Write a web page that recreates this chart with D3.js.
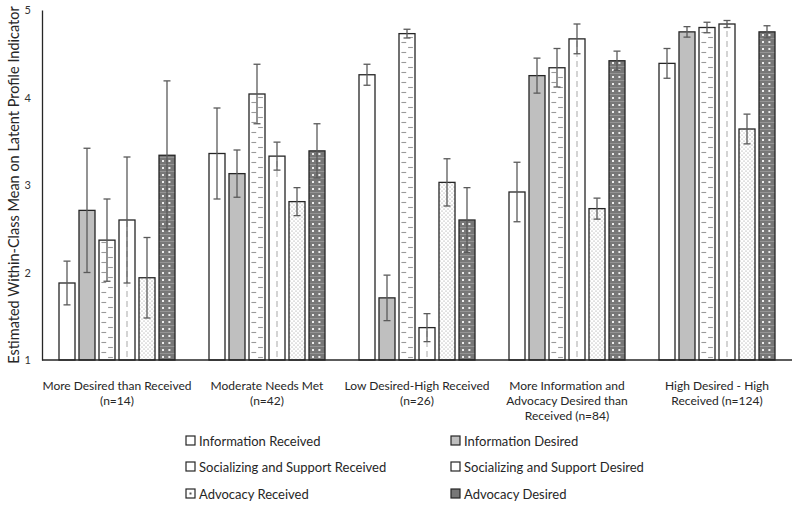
<!DOCTYPE html>
<html><head><meta charset="utf-8">
<script src="https://cdn.jsdelivr.net/npm/d3@7"></script>
<style>body{margin:0;background:#fff;} svg{display:block;}</style>
</head><body>
<svg id="c" width="800" height="510"></svg>
<script>
const categories = [
  ["More Desired than Received", "(n=14)"],
  ["Moderate Needs Met", "(n=42)"],
  ["Low Desired-High Received", "(n=26)"],
  ["More Information and", "Advocacy Desired than", "Received (n=84)"],
  ["High Desired - High", "Received (n=124)"]
];
const seriesNames = ["Information Received","Information Desired","Socializing and Support Received","Socializing and Support Desired","Advocacy Received","Advocacy Desired"];
const infoReceived = [1.88, 3.36, 4.26, 2.92, 4.39];
const infoReceivedErr = [0.25, 0.52, 0.12, 0.34, 0.17];
const infoDesired = [2.71, 3.13, 1.71, 4.25, 4.75];
const infoDesiredErr = [0.71, 0.27, 0.26, 0.20, 0.06];
const socReceived = [2.37, 4.04, 4.73, 4.34, 4.80];
const socReceivedErr = [0.47, 0.34, 0.05, 0.22, 0.06];
const socDesired = [2.60, 3.33, 1.37, 4.67, 4.84];
const socDesiredErr = [0.72, 0.16, 0.16, 0.17, 0.04];
const advReceived = [1.94, 2.81, 3.03, 2.73, 3.64];
const advReceivedErr = [0.46, 0.16, 0.27, 0.12, 0.17];
const advDesired = [3.34, 3.39, 2.60, 4.42, 4.75];
const advDesiredErr = [0.85, 0.31, 0.37, 0.11, 0.07];
const yTicks = [1, 2, 3, 4, 5];

const values = [infoReceived, infoDesired, socReceived, socDesired, advReceived, advDesired];
const errs = [infoReceivedErr, infoDesiredErr, socReceivedErr, socDesiredErr, advReceivedErr, advDesiredErr];

const svg = d3.select("#c");
const font = "Lato, 'Open Sans', sans-serif";
const mLeft = 42, mRight = 792, mTop = 10, mBottom = 360;

const x0 = d3.scaleBand().domain(d3.range(categories.length)).range([mLeft, mRight]).padding(0);
const x1 = d3.scaleBand().domain(d3.range(seriesNames.length)).range([0, x0.bandwidth()]).paddingInner(0.2).paddingOuter(0.85);
const y = d3.scaleLinear().domain([1, 5]).range([mBottom, mTop]);

const defs = svg.append("defs");
const bw = x1.bandwidth();

function makePattern(id, s, px, py, size) {
  const p = defs.append("pattern").attr("id", id).attr("patternUnits", "userSpaceOnUse").attr("x", px).attr("y", py);
  if (s === 2) {
    p.attr("width", size).attr("height", 10);
    p.append("rect").attr("width", size).attr("height", 10).attr("fill", "#fff");
    p.append("line").attr("x1", size*0.15).attr("x2", size*0.45).attr("y1", 2.5).attr("y2", 2.5).attr("stroke", "#9a9a9a").attr("stroke-width", 1.1);
    p.append("line").attr("x1", size*0.57).attr("x2", size*0.87).attr("y1", 7.5).attr("y2", 7.5).attr("stroke", "#9a9a9a").attr("stroke-width", 1.1);
  } else if (s === 3) {
    p.attr("width", size).attr("height", 10);
    p.append("rect").attr("width", size).attr("height", 10).attr("fill", "#fff");
    p.append("line").attr("x1", size/2).attr("x2", size/2).attr("y1", 1).attr("y2", 7).attr("stroke", "#b8b8b8").attr("stroke-width", 1.2);
  } else if (s === 4) {
    p.attr("width", 4).attr("height", 4);
    p.append("rect").attr("width", 4).attr("height", 4).attr("fill", "#fff");
    p.append("circle").attr("cx", 1).attr("cy", 1).attr("r", 0.55).attr("fill", "#888");
    p.append("circle").attr("cx", 3).attr("cy", 3).attr("r", 0.55).attr("fill", "#888");
  } else if (s === 5) {
    p.attr("width", size).attr("height", 7);
    p.append("rect").attr("width", size).attr("height", 7).attr("fill", "#777");
    p.append("line").attr("x1", 0).attr("x2", size).attr("y1", 0.5).attr("y2", 0.5).attr("stroke", "#9c9c9c").attr("stroke-width", 0.8);
    p.append("rect").attr("x", size*0.25-1).attr("y", 3).attr("width", 2).attr("height", 2).attr("fill", "#eee");
    p.append("rect").attr("x", size*0.65-1).attr("y", 3).attr("width", 2).attr("height", 2).attr("fill", "#eee");
  }
}
function fillFor(s, id) {
  if (s === 0) return "#fff";
  if (s === 1) return "#bfbfbf";
  return "url(#" + id + ")";
}

const g = svg.append("g");

categories.forEach((cat, ci) => {
  seriesNames.forEach((name, si) => {
    const bx = x0(ci) + x1(si);
    const v = values[si][ci];
    const id = "p" + ci + "_" + si;
    if (si >= 2) makePattern(id, si, bx, mBottom, bw);
    g.append("rect")
      .attr("x", bx).attr("y", y(v))
      .attr("width", bw).attr("height", y(1) - y(v))
      .attr("fill", fillFor(si, id))
      .attr("stroke", "#262626").attr("stroke-width", 1.3);
  });
});

// error bars
categories.forEach((cat, ci) => {
  seriesNames.forEach((name, si) => {
    const cx = x0(ci) + x1(si) + bw / 2;
    const v = values[si][ci], e = errs[si][ci];
    const eg = g.append("g").attr("stroke", "#5a5a5a").attr("stroke-width", 1.3);
    eg.append("line").attr("x1", cx).attr("x2", cx).attr("y1", y(v + e)).attr("y2", y(v - e));
    eg.append("line").attr("x1", cx - 3.5).attr("x2", cx + 3.5).attr("y1", y(v + e)).attr("y2", y(v + e));
    eg.append("line").attr("x1", cx - 3.5).attr("x2", cx + 3.5).attr("y1", y(v - e)).attr("y2", y(v - e));
  });
});

// axes
const yAxis = d3.axisLeft(y).tickValues(yTicks).tickSize(0).tickPadding(11).tickFormat(d3.format("d"));
const ya = svg.append("g").attr("transform", `translate(${mLeft},0)`).call(yAxis);
ya.select(".domain").attr("stroke", "#262626").attr("stroke-width", 1.3);
ya.selectAll("text").attr("font-family", font).attr("font-size", 11).attr("fill", "#333");

svg.append("line").attr("x1", mLeft).attr("x2", mRight).attr("y1", mBottom).attr("y2", mBottom)
  .attr("stroke", "#262626").attr("stroke-width", 1.5);

// category labels
categories.forEach((cat, ci) => {
  const t = svg.append("text").attr("x", x0(ci) + x0.bandwidth() / 2).attr("y", 390)
    .attr("text-anchor", "middle").attr("font-family", font).attr("font-size", 12).attr("fill", "#262626");
  cat.forEach((line, li) => {
    t.append("tspan").attr("x", x0(ci) + x0.bandwidth() / 2).attr("dy", li === 0 ? 0 : 15).text(line);
  });
});

// y title
svg.append("text").attr("transform", `translate(19,${(mTop + mBottom) / 2}) rotate(-90)`)
  .attr("text-anchor", "middle").attr("font-family", font).attr("font-size", 14.5).attr("fill", "#262626")
  .text("Estimated Within-Class Mean on Latent Profile Indicator");

// legend
const legX = [186, 451], legY = [441, 467, 494];
seriesNames.forEach((name, si) => {
  const lx = legX[si % 2], ly = legY[Math.floor(si / 2)];
  let f = si === 1 ? "#bfbfbf" : (si === 5 ? "#777" : "#fff");
  svg.append("rect").attr("x", lx).attr("y", ly - 5).attr("width", 9).attr("height", 9)
    .attr("fill", f).attr("stroke", "#262626").attr("stroke-width", 1.2);
  if (si === 4) svg.append("rect").attr("x", lx + 3.5).attr("y", ly - 1.5).attr("width", 2).attr("height", 2).attr("fill", "#555");
  svg.append("text").attr("x", lx + 13).attr("y", ly + 4.5).attr("font-family", font).attr("font-size", 13).attr("fill", "#262626").text(name);
});
</script>
</body></html>
